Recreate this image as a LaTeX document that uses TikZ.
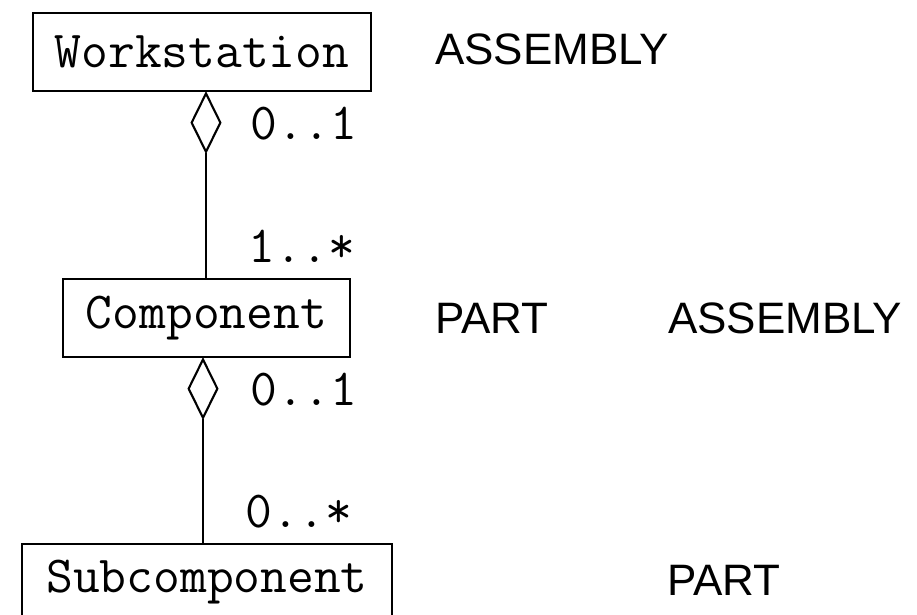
\documentclass[tikz,border=0pt]{standalone}
\usepackage{fontspec}
\newfontfamily\labelfont{Liberation Sans}
\usepackage{tikz}
\usetikzlibrary{calc}
\usetikzlibrary{shapes.geometric}
\tikzset{
	cls/.style={draw,line width=1.5pt,minimum height=1.95cm,inner sep=0pt,font=\fontsize{37}{40}\selectfont\ttfamily},
	agg/.style={draw,diamond,line width=1.5pt,fill=white,minimum width=0.74cm,minimum height=1.48cm,inner sep=0pt},
	mult/.style={anchor=base west,inner sep=0pt,font=\fontsize{37}{40}\selectfont\ttfamily},
	role/.style={anchor=base west,inner sep=0pt,font=\fontsize{31.3}{34}\selectfont\labelfont}
}

\begin{document}
\begin{tikzpicture}
	\useasboundingbox (0,0) rectangle (22.925,15.35);
	\node[cls,minimum width=8.45cm] (ws) at (5.05,14.05) {Workstation};
	\node[cls,minimum width=7.175cm] (comp) at (5.1625,7.4) {Component};
	\node[cls,minimum width=9.25cm,minimum height=2.6cm,text depth=1.0cm,anchor=north] (sub) at (5.175,1.775) {Subcomponent};
	\node[agg,anchor=north] (agg1) at (5.15,13.05) {};
	\node[agg,anchor=north] (agg2) at (5.075,6.4) {};
	\draw[line width=1.5pt] (agg1.south) -- (agg1.south |- comp.north);
	\draw[line width=1.5pt] (agg2.south) -- (agg2.south |- sub.north);
	% multiplicities
	\node[mult] (m1) at (6.25,11.85) {0..1};
	\node[mult] (m2) at (6.2,8.775) {1..*};
	\node[mult] (m3) at (6.25,5.225) {0..1};
	\node[mult] (m4) at (6.125,2.175) {0..*};
	% roles
	\node[role] (r1) at (10.875,13.725) {ASSEMBLY};
	\node[role] (r2) at (10.875,7.025) {PART};
	\node[role] (r3) at (16.7,7.025) {ASSEMBLY};
	\node[role] (r4) at (16.675,0.475) {PART};
\end{tikzpicture}
\end{document}
